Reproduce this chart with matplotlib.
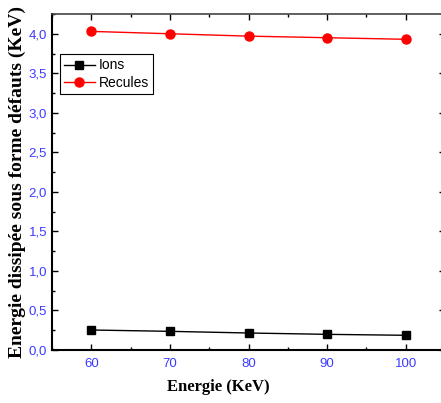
import numpy as np
import matplotlib.pyplot as plt
from matplotlib.ticker import MultipleLocator, FuncFormatter

# Energie incidente (KeV)
energie = [60, 70, 80, 90, 100]
# Energie dissipee sous forme defauts (KeV)
ions = [0.253, 0.236, 0.215, 0.198, 0.186]
recules = [4.03, 4.00, 3.97, 3.95, 3.93]

tick_blue = '#3b3bff'

fig = plt.figure(figsize=(4.41, 4.03), dpi=100)
ax = fig.add_axes([52/441, 53/403, 393/441, 336/403])

ax.plot(energie, ions, color='black', marker='s', markersize=6, linewidth=1, label='Ions')
ax.plot(energie, recules, color='red', marker='o', markersize=6.5, linewidth=1, label='Recules')

ax.set_xlim(55, 105)
ax.set_ylim(0, 4.25)
ax.xaxis.set_major_locator(MultipleLocator(10))
ax.xaxis.set_minor_locator(MultipleLocator(5))
ax.yaxis.set_major_locator(MultipleLocator(0.5))
ax.yaxis.set_minor_locator(MultipleLocator(0.25))
# comma as decimal separator
ax.yaxis.set_major_formatter(FuncFormatter(lambda v, p: ('%.1f' % v).replace('.', ',')))

ax.tick_params(which='both', direction='in', top=True, right=True,
               labelcolor=tick_blue, labelsize=9.5)
ax.tick_params(which='major', length=4, width=1)
ax.tick_params(which='minor', length=2.5, width=1)
ax.tick_params(axis='x', pad=6)
for lbl in ax.get_xticklabels() + ax.get_yticklabels():
    lbl.set_family('Liberation Sans')

for s in ['bottom', 'left']:
    ax.spines[s].set_linewidth(1.5)
for s in ['top', 'right']:
    ax.spines[s].set_linewidth(1.2)
    ax.spines[s].set_color('#444444')

ax.set_xlabel('Energie (KeV)', family='Liberation Serif', fontweight='bold', fontsize=12)
ax.xaxis.set_label_coords(0.422, -0.11)
ax.xaxis.label.set_va('center')
ax.set_ylabel('Energie dissipée sous forme défauts (KeV)', family='Liberation Serif',
              fontweight='bold', fontsize=14)
ax.yaxis.set_label_coords(-0.089, 0.5)
ax.yaxis.label.set_va('center')

leg = ax.legend(loc='upper left', bbox_to_anchor=(0.02, 0.88), fancybox=False,
                edgecolor='black', framealpha=1, handlelength=2.2,
                prop={'family': 'Liberation Sans', 'size': 10},
                borderpad=0.3, labelspacing=0.25, handletextpad=0.3, borderaxespad=0)
leg.get_frame().set_linewidth(0.8)

fig.savefig('out.png', dpi=100)
